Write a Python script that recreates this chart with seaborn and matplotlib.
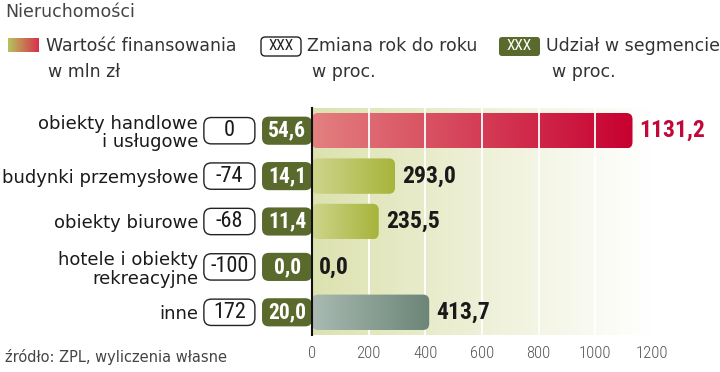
import numpy as np
import matplotlib
matplotlib.use("Agg")
import matplotlib.pyplot as plt
import seaborn as sns
from matplotlib.patches import FancyBboxPatch
from matplotlib.colors import LinearSegmentedColormap
from matplotlib import transforms

# data
categories = ["obiekty handlowe\ni usługowe", "budynki przemysłowe",
              "obiekty biurowe", "hotele i obiekty\nrekreacyjne", "inne"]
values = [1131.2, 293.0, 235.5, 0.0, 413.7]
change_pct = [0, -74, -68, -100, 172]
share_pct = [54.6, 14.1, 11.4, 0.0, 20.0]
xticks = [0, 200, 400, 600, 800, 1000, 1200]

# gradient pairs for each bar (light -> dark)
bar_grads = [("#e38080", "#c70030"), ("#cfd58c", "#a6b43a"),
             ("#cfd58c", "#a6b43a"), ("#cfd58c", "#a6b43a"),
             ("#a9bab2", "#6b8577")]
olive = "#5a6a2c"
W, H = 720, 372


def fx(px):
    return px / W


def fy(py):
    return 1 - py / H


sns.set_style("white")
plt.rcParams["font.family"] = ["DejaVu Sans"]
cond = ["Roboto Condensed", "Liberation Sans Narrow", "DejaVu Sans"]

fig = plt.figure(figsize=(7.2, 3.72), dpi=100)
ax = fig.add_axes([fx(312), fy(335), fx(652) - fx(312), fy(108) - fy(335)])

sns.barplot(x=values, y=categories, orient="h", color="#a6b43a",
            width=0.78, ax=ax, zorder=2)
ax.set_xlim(0, 1200)
ax.set_ylim(4.5, -0.5)

# background gradient
bg = LinearSegmentedColormap.from_list("bg", ["#dde2b0", "#ffffff"])
ax.imshow(np.linspace(0, 1, 256)[None, :], cmap=bg, aspect="auto",
          extent=(0, 1200, 4.5, -0.5), zorder=0)
for t in xticks[1:-1]:
    ax.axvline(t, color="white", lw=1.3, zorder=1)

# replace bars with rounded gradient bars
asp = (1 / 45) / (1200 / 340)
bars = list(ax.patches)
for i, p in enumerate(bars):
    x0, y0, w, h = p.get_x(), p.get_y(), p.get_width(), p.get_height()
    p.remove()
    if w <= 0:
        continue
    fb = FancyBboxPatch((x0, y0), w, h,
                        boxstyle="round,pad=0,rounding_size=22",
                        mutation_aspect=asp, fc="none", ec="none", zorder=2)
    ax.add_patch(fb)
    cm = LinearSegmentedColormap.from_list("b%d" % i, bar_grads[i])
    im = ax.imshow(np.linspace(0, 1, 256)[None, :], cmap=cm, aspect="auto",
                   extent=(x0, x0 + w, y0 + h, y0), zorder=2)
    im.set_clip_path(fb)
    if w > 1000:
        for t in xticks[1:-1]:
            ln = ax.axvline(t, color="white", lw=1.3, zorder=3)
            ln.set_clip_path(fb)
ax.set_xlim(0, 1200)
ax.set_ylim(4.5, -0.5)

# value labels
for i, v in enumerate(values):
    col = "#c0083a" if i == 0 else "#1a1a1a"
    ax.annotate(f"{v:.1f}".replace(".", ","), (v, i), xytext=(5, 0),
                textcoords="offset points", va="center", ha="left",
                fontsize=17, fontweight="bold", color=col, family=cond,
                zorder=4)

# boxes left of the axis
tr = transforms.blended_transform_factory(ax.transAxes, ax.transData)
basp = (1 / 45) / (1 / 340)
for i in range(len(categories)):
    wb = FancyBboxPatch((-0.318, i - 0.29), 0.150, 0.58,
                        boxstyle="round,pad=0,rounding_size=0.022",
                        mutation_aspect=basp, fc="white", ec="#222222",
                        lw=1.0, transform=tr, clip_on=False, zorder=5)
    ax.add_patch(wb)
    ax.text(-0.243, i, str(change_pct[i]), transform=tr, ha="center",
            va="center", fontsize=16, color="#1a1a1a", family=cond,
            zorder=6)
    ob = FancyBboxPatch((-0.147, i - 0.31), 0.147, 0.62,
                        boxstyle="round,pad=0,rounding_size=0.02",
                        mutation_aspect=basp, fc=olive, ec="none",
                        transform=tr, clip_on=False, zorder=5)
    ax.add_patch(ob)
    ax.text(-0.073, i, f"{share_pct[i]:.1f}".replace(".", ","),
            transform=tr, ha="center", va="center", fontsize=15.5,
            fontweight="bold", color="white", family=cond, zorder=6)

# axes styling
sns.despine(ax=ax, left=False, bottom=True)
ax.spines["left"].set_color("#111111")
ax.spines["left"].set_linewidth(1.5)
ax.spines["left"].set_zorder(7)
ax.set_xticks(xticks)
ax.set_xticklabels([str(t) for t in xticks])
ax.tick_params(axis="x", length=0, pad=8, labelsize=12, labelcolor="#555555")
for lab in ax.get_xticklabels():
    lab.set_family(cond)
    lab.set_fontweight("light")
ax.tick_params(axis="y", length=0, pad=82, labelsize=13, labelcolor="#1a1a1a")
for lab in ax.get_yticklabels():
    lab.set_linespacing(1.05)
ax.set_xlabel("")
ax.set_ylabel("")

# title, legend and source
fig.text(fx(5), fy(12), "Nieruchomości", fontsize=12.5, color="#444444",
         va="center", ha="left")

sw = fig.add_axes([fx(8), fy(52), fx(39) - fx(8), fy(38) - fy(52)])
sw.imshow(np.linspace(0, 1, 64)[None, :], aspect="auto",
          cmap=LinearSegmentedColormap.from_list("sw", ["#b6c35c", "#d8304c"]))
sw.axis("off")
fig.text(fx(46), fy(46), "Wartość finansowania", fontsize=12.5,
         color="#333333", va="center", ha="left")
fig.text(fx(48), fy(72), "w mln zł", fontsize=12.5, color="#333333",
         va="center", ha="left")

fig.patches.append(FancyBboxPatch((fx(261), fy(56)), fx(40), fy(0) - fy(19),
                                  boxstyle="round,pad=0,rounding_size=0.006",
                                  mutation_aspect=W / H, fc="white",
                                  ec="#222222", lw=1.0,
                                  transform=fig.transFigure, figure=fig))
fig.text(fx(281), fy(46.5), "XXX", fontsize=11, color="#222222", va="center",
         ha="center", family=cond)
fig.text(fx(307), fy(46), "Zmiana rok do roku", fontsize=12.5,
         color="#333333", va="center", ha="left")
fig.text(fx(312), fy(72), "w proc.", fontsize=12.5, color="#333333",
         va="center", ha="left")

fig.patches.append(FancyBboxPatch((fx(499), fy(56)), fx(41), fy(0) - fy(19),
                                  boxstyle="round,pad=0,rounding_size=0.004",
                                  mutation_aspect=W / H, fc=olive, ec="none",
                                  transform=fig.transFigure, figure=fig))
fig.text(fx(519), fy(46.5), "XXX", fontsize=11, color="white", va="center",
         ha="center", family=cond)
fig.text(fx(546), fy(46), "Udział w segmencie", fontsize=12.5,
         color="#333333", va="center", ha="left")
fig.text(fx(552), fy(72), "w proc.", fontsize=12.5, color="#333333",
         va="center", ha="left")

fig.text(fx(5), fy(357), "źródło: ZPL, wyliczenia własne", fontsize=10.5,
         color="#444444", va="center", ha="left")

fig.savefig("out.png", dpi=100)
